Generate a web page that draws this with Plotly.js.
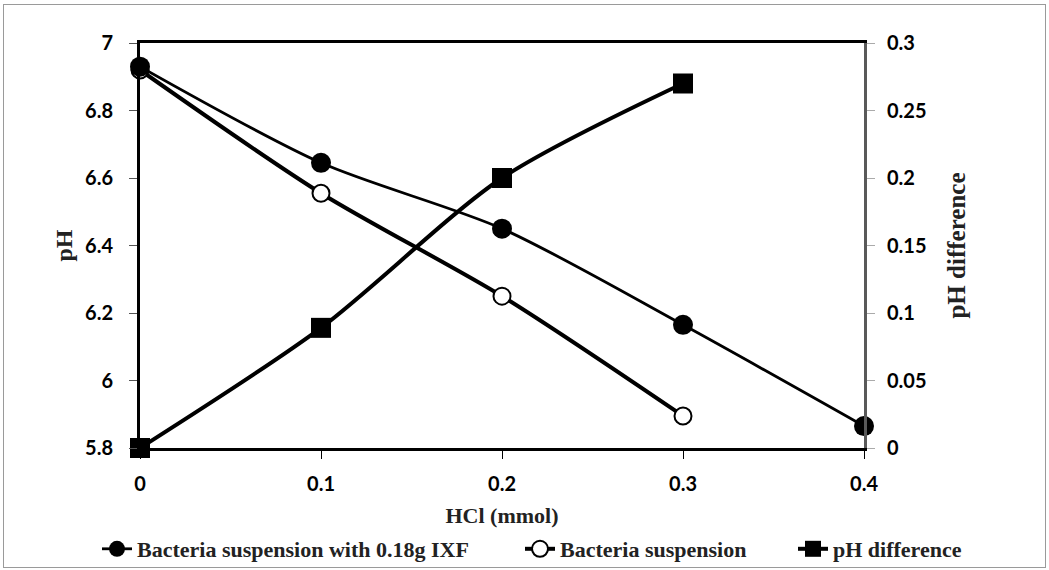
<!DOCTYPE html>
<html>
<head>
<meta charset="utf-8">
<script src="https://cdn.plot.ly/plotly-3.0.1.min.js"></script>
<style>
  html, body { margin: 0; padding: 0; background: #fff; }
  #wrap { position: relative; width: 1049px; height: 570px; }
  #chart { width: 1049px; height: 570px; }
  #frame { position: absolute; left: 3px; top: 4px; width: 1041px; height: 562px;
           border: 1px solid #9a9a9a; pointer-events: none; }
</style>
</head>
<body>
<div id="wrap"><div id="chart"></div><div id="frame"></div></div>
<script>
// Data
const hcl = [0, 0.1, 0.2, 0.3, 0.4];
const hclSusp = [0, 0.1, 0.2, 0.3];
const phWithIXF = [6.93, 6.645, 6.45, 6.165, 5.865];
const phSuspension = [6.92, 6.555, 6.25, 5.895];
const phDifference = [0, 0.089, 0.2, 0.27];

const seriesNames = ['Bacteria suspension with 0.18g IXF', 'Bacteria suspension', 'pH difference'];
const xTitle = 'HCl (mmol)';
const yTitle = 'pH';
const y2Title = 'pH difference';

const tickFont = { family: 'Lato, "Open Sans", sans-serif', size: 20, color: '#000', weight: 700 };
const serifFont = { family: '"Liberation Serif", "Times New Roman", serif', color: '#222', weight: 700 };

const traces = [
  {
    x: hclSusp, y: phSuspension, name: seriesNames[1], type: 'scatter', mode: 'lines+markers',
    legend: 'legend2',
    line: { color: '#000', width: 4, shape: 'spline', smoothing: 0.8 },
    marker: { symbol: 'circle', size: 17, color: '#fff', line: { color: '#000', width: 2 } },
    cliponaxis: false
  },
  {
    x: hcl, y: phWithIXF, name: seriesNames[0], type: 'scatter', mode: 'lines+markers',
    legend: 'legend',
    line: { color: '#000', width: 2.8, shape: 'spline', smoothing: 0.8 },
    marker: { symbol: 'circle', size: 20, color: '#000' },
    cliponaxis: false
  },
  {
    x: hclSusp, y: phDifference, name: seriesNames[2], type: 'scatter', mode: 'lines+markers',
    yaxis: 'y2', legend: 'legend3',
    line: { color: '#000', width: 4, shape: 'spline', smoothing: 0.8 },
    marker: { symbol: 'square', size: 20, color: '#000' },
    cliponaxis: false
  }
];

function legendAt(px) {
  return {
    orientation: 'h',
    xref: 'container', x: px / 1049, xanchor: 'left',
    yref: 'container', y: 1 - 549 / 570, yanchor: 'middle',
    font: Object.assign({ size: 22 }, serifFont),
    bgcolor: 'rgba(0,0,0,0)', borderwidth: 0
  };
}

const layout = {
  width: 1049, height: 570,
  margin: { l: 140, r: 185, t: 43, b: 122 },
  paper_bgcolor: '#fff', plot_bgcolor: '#fff',
  showlegend: true,
  legend: legendAt(97),
  legend2: legendAt(520),
  legend3: legendAt(793),
  xaxis: {
    range: [0, 0.4], dtick: 0.1, tick0: 0,
    showgrid: false, zeroline: false, automargin: false,
    showline: true, linecolor: '#000', linewidth: 3, mirror: true,
    ticks: 'outside', ticklen: 8, tickcolor: '#000', tickwidth: 1,
    ticklabelstandoff: 8,
    tickfont: tickFont,
    title: { text: xTitle, font: Object.assign({ size: 22 }, serifFont), standoff: 17 }
  },
  yaxis: {
    range: [5.8, 7], dtick: 0.2, tick0: 5.8,
    showgrid: false, zeroline: false, automargin: false,
    showline: true, linecolor: '#000', linewidth: 3,
    ticks: 'outside', ticklen: 8, tickcolor: '#555', tickwidth: 1,
    ticklabelstandoff: 12,
    tickfont: tickFont,
    title: { text: yTitle, font: Object.assign({ size: 24 }, serifFont), standoff: 6 }
  },
  yaxis2: {
    range: [0, 0.3], dtick: 0.05, tick0: 0,
    overlaying: 'y', side: 'right', automargin: false,
    showline: true, linecolor: '#595959', linewidth: 3,
    showgrid: false, zeroline: false,
    ticks: 'outside', ticklen: 8, tickcolor: '#aaa', tickwidth: 1,
    ticklabelstandoff: 8,
    tickfont: tickFont,
    title: { text: y2Title, font: Object.assign({ size: 25 }, serifFont), standoff: 22 }
  }
};

Plotly.newPlot('chart', traces, layout, { displayModeBar: false, staticPlot: true });
</script>
</body>
</html>
